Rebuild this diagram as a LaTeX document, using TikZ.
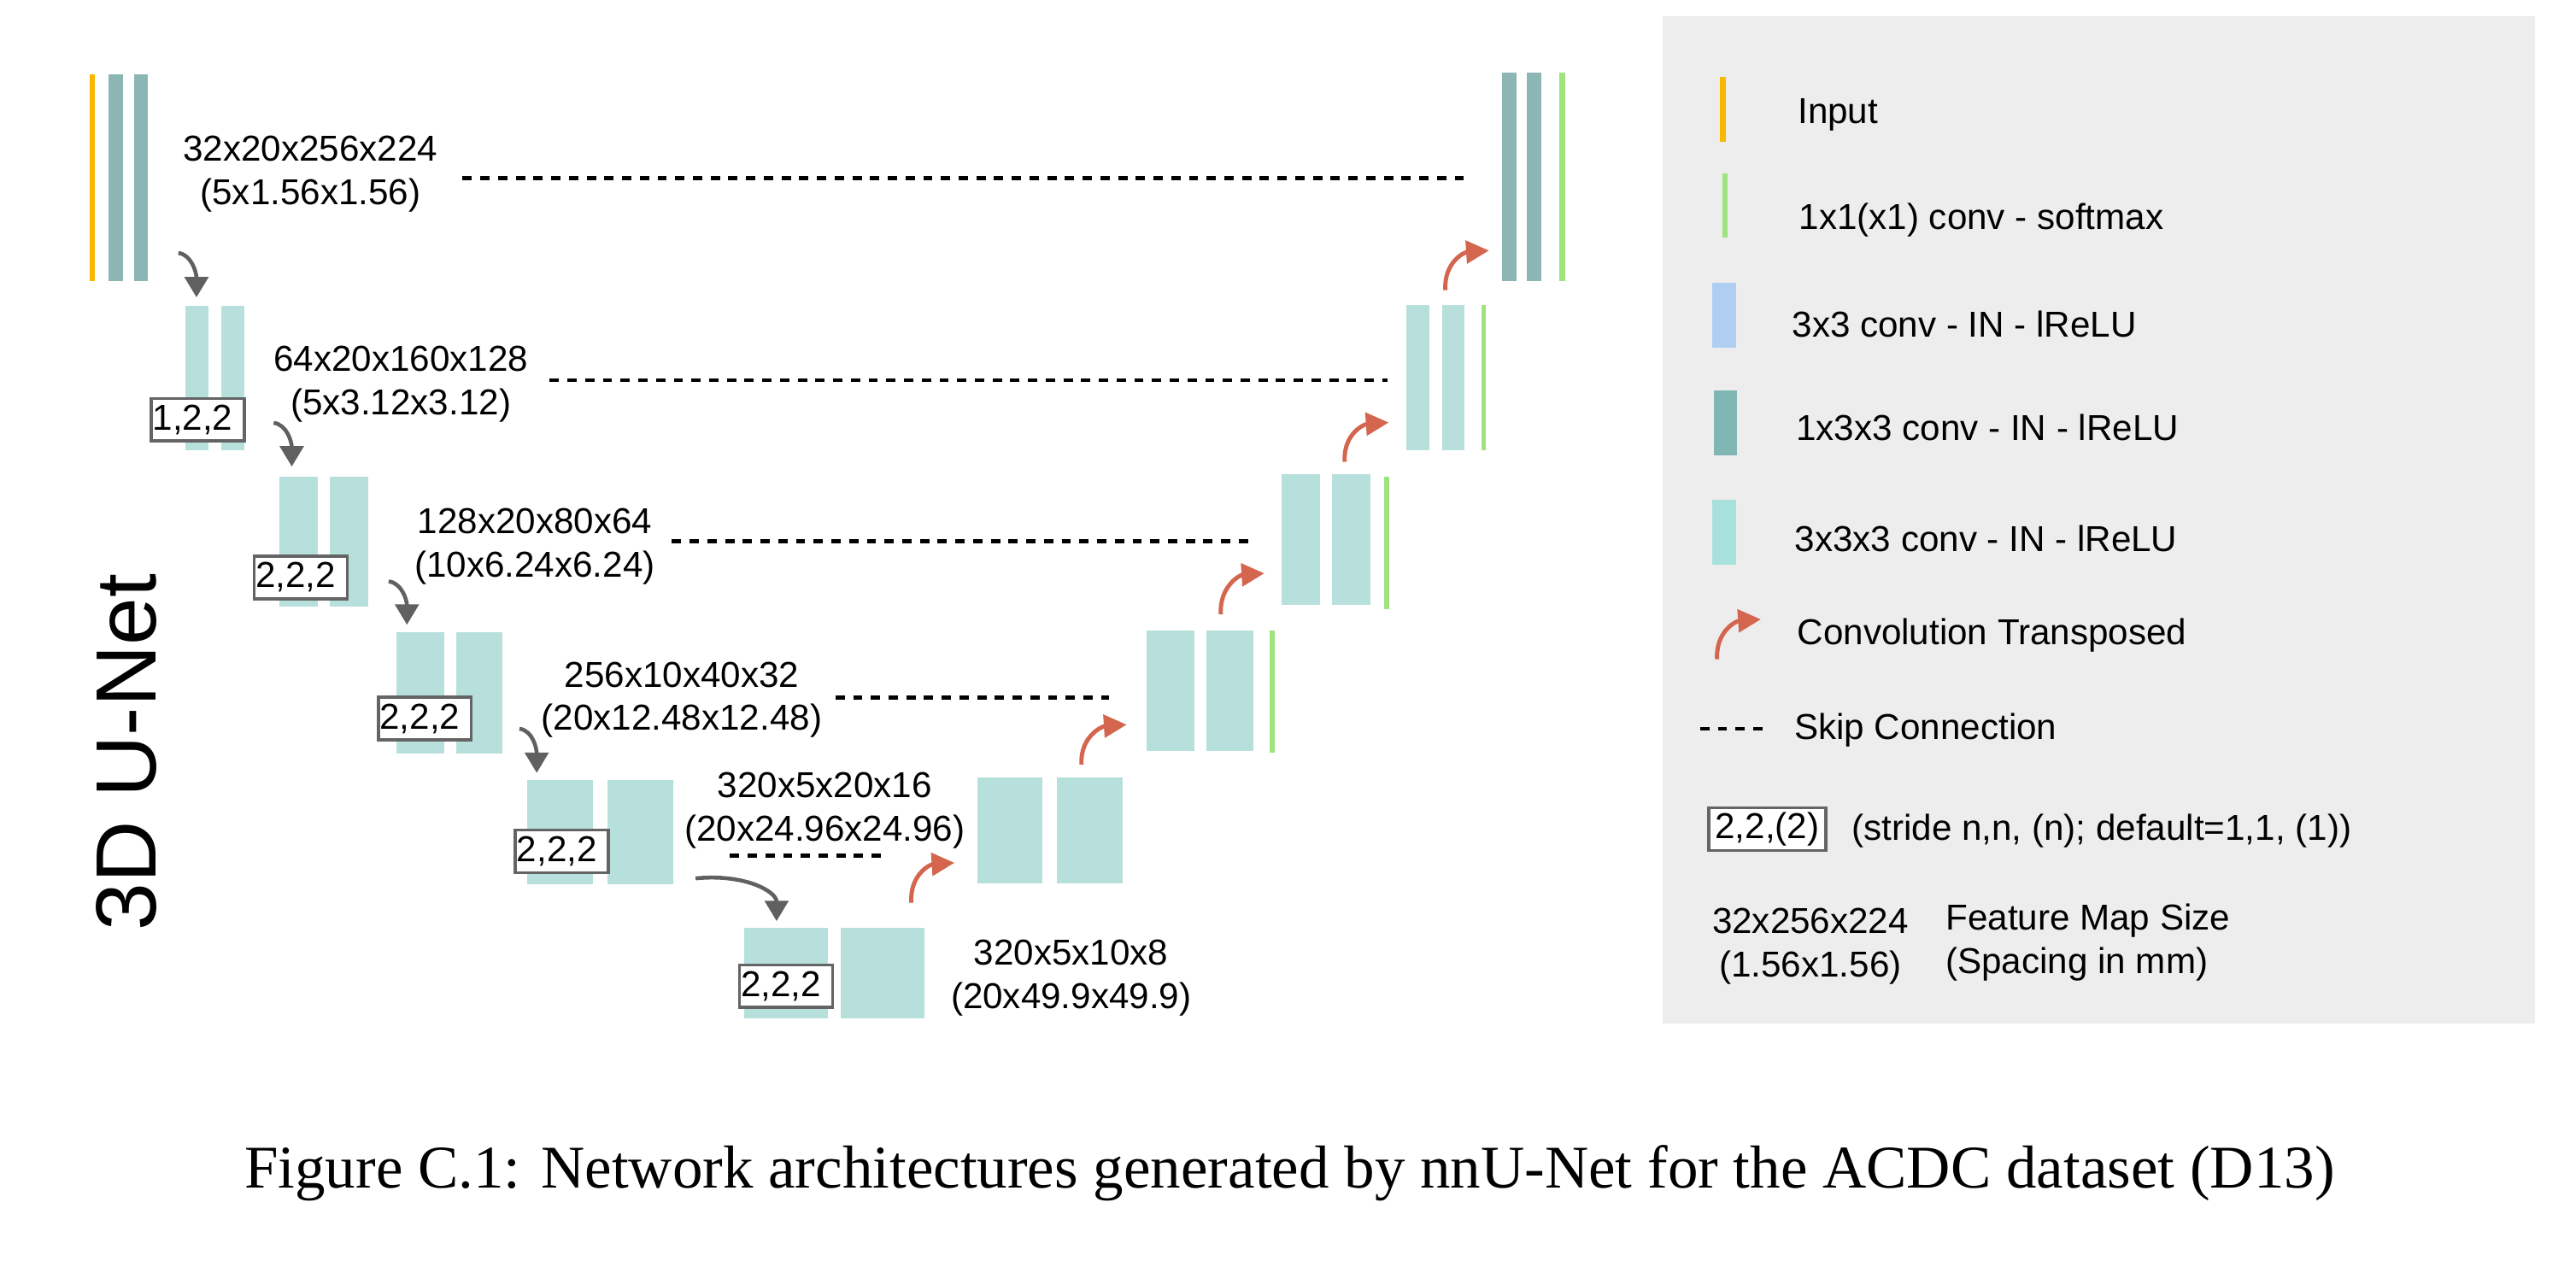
\documentclass[tikz,border=0pt]{standalone}
\usepackage{fontspec}
\setmainfont{Liberation Sans}
\newfontfamily\capfont{Liberation Serif}
\usetikzlibrary{arrows.meta,fit}
\definecolor{inyellow}{RGB}{248,184,0}
\definecolor{darkteal}{RGB}{140,182,180}
\definecolor{lightteal}{RGB}{183,224,220}
\definecolor{legdark}{RGB}{127,181,178}
\definecolor{leglight}{RGB}{168,224,220}
\definecolor{outgreen}{RGB}{158,227,128}
\definecolor{convblue}{RGB}{174,207,242}
\definecolor{legendgray}{RGB}{237,237,237}
\definecolor{upred}{RGB}{212,101,78}
\definecolor{downgray}{RGB}{96,96,96}
\definecolor{boxgray}{RGB}{100,100,100}

\begin{document}
\begin{tikzpicture}[x=0.1923mm,y=-0.1923mm,
	bar/.style={inner sep=0pt,outer sep=0pt,fill=#1},
	lbl/.style={font=\fontsize{12}{14.5}\selectfont,align=center,inner sep=0pt},
	leg/.style={font=\fontsize{12}{14.5}\selectfont,anchor=west,align=left,inner sep=0pt},
	stride/.style={draw=boxgray,line width=1pt,fill=white,font=\fontsize{12}{14.5}\selectfont,minimum width=31pt,minimum height=14.2pt,text width=30pt,align=left,inner xsep=0.5pt,inner ysep=0pt},
	skip/.style={line width=1.3pt,dash pattern=on 3.1pt off 2.8pt},
	downarr/.style={draw=downgray,line width=1.3pt,-{Triangle[width=7.8pt,length=6.8pt]}},
	uparr/.style={draw=upred,line width=1.4pt,-{Triangle[width=7.5pt,length=7.6pt]}}]
	\useasboundingbox (0,0) rectangle (1568,771);

	\node[bar=inyellow,fit={(54.6,45) (57.6,171)}] (in) {};
	\node[bar=darkteal,fit={(66.2,45) (74.8,171)}] (e0a) {};
	\node[bar=darkteal,fit={(81.4,45) (90.2,171)}] (e0b) {};
	\node[bar=lightteal,fit={(112.6,186) (126.8,274)}] (e1a) {};
	\node[bar=lightteal,fit={(134.6,186) (148.7,274)}] (e1b) {};
	\node[bar=lightteal,fit={(170,290) (193.4,369)}] (e2a) {};
	\node[bar=lightteal,fit={(200.6,290) (224,369)}] (e2b) {};
	\node[bar=lightteal,fit={(241.2,385) (270.2,458.5)}] (e3a) {};
	\node[bar=lightteal,fit={(277.5,385) (306,458.5)}] (e3b) {};
	\node[bar=lightteal,fit={(321,475) (361,538)}] (e4a) {};
	\node[bar=lightteal,fit={(369.8,475) (409.6,538)}] (e4b) {};
	\node[bar=lightteal,fit={(453,565) (503.7,620)}] (e5a) {};
	\node[bar=lightteal,fit={(511.8,565) (562.5,620)}] (e5b) {};

	\node[bar=lightteal,fit={(594.8,473) (634.4,537.5)}] (d4a) {};
	\node[bar=lightteal,fit={(643.4,473) (683.1,537.5)}] (d4b) {};
	\node[bar=lightteal,fit={(697.8,383.6) (726.9,457.3)}] (d3a) {};
	\node[bar=lightteal,fit={(734.1,383.6) (762.8,457.3)}] (d3b) {};
	\node[bar=outgreen,fit={(772.9,383.6) (775.9,458)}] (o3) {};
	\node[bar=lightteal,fit={(780,288.8) (803.4,368.2)}] (d2a) {};
	\node[bar=lightteal,fit={(810.8,288.8) (834.1,368.2)}] (d2b) {};
	\node[bar=outgreen,fit={(842.7,290.1) (845.6,370.8)}] (o2) {};
	\node[bar=lightteal,fit={(855.9,185.6) (869.9,273.9)}] (d1a) {};
	\node[bar=lightteal,fit={(877.7,185.6) (891.4,273.9)}] (d1b) {};
	\node[bar=outgreen,fit={(901.8,185.6) (904.4,273.9)}] (o1) {};
	\node[bar=darkteal,fit={(914.3,44) (923.1,171)}] (d0a) {};
	\node[bar=darkteal,fit={(929.4,44) (938.1,171)}] (d0b) {};
	\node[bar=outgreen,fit={(949,44) (952.5,171)}] (o0) {};

	\node[stride] (b1) at (120.3,255.5) {1,2,2};
	\node[stride] (b2) at (183,351.5) {2,2,2};
	\node[stride] (b3) at (258.6,437.4) {2,2,2};
	\node[stride] (b4) at (342,518.3) {2,2,2};
	\node[stride] (b5) at (478.5,600.3) {2,2,2};

	\node[lbl] (t0) at (189,106) {32x20x256x224\\(5x1.56x1.56)};
	\node[lbl] (t1) at (244,234) {64x20x160x128\\(5x3.12x3.12)};
	\node[lbl] (t2) at (325.5,332.5) {128x20x80x64\\(10x6.24x6.24)};
	\node[lbl] (t3) at (415,426) {256x10x40x32\\(20x12.48x12.48)};
	\node[lbl] (t4) at (502,493.5) {320x5x20x16\\(20x24.96x24.96)};
	\node[lbl] (t5) at (652,595.5) {320x5x10x8\\(20x49.9x49.9)};

	\coordinate (k0a) at (281.6,108.4); \coordinate (k0b) at (896.2,108.4);
	\coordinate (k1a) at (334.6,231.5); \coordinate (k1b) at (844.5,231.5);
	\coordinate (k2a) at (409,329.5); \coordinate (k2b) at (760.1,329.5);
	\coordinate (k3a) at (508.5,424.5); \coordinate (k3b) at (675,424.5);
	\coordinate (k4a) at (444.3,520.8); \coordinate (k4b) at (538,520.8);
	\draw[skip] (k0a) -- (k0b);
	\draw[skip] (k1a) -- (k1b);
	\draw[skip] (k2a) -- (k2b);
	\draw[skip] (k3a) -- (k3b);
	\draw[skip] (k4a) -- (k4b);

	\coordinate (g1s) at (108.6,154); \coordinate (g1t) at (119.6,181);
	\coordinate (g2s) at (166.6,257.4); \coordinate (g2t) at (177.6,284);
	\coordinate (g3s) at (236.6,353.9); \coordinate (g3t) at (247.7,380.3);
	\coordinate (g4s) at (316.2,443.6); \coordinate (g4t) at (326.7,470.5);
	\coordinate (g5s) at (423.4,534.7); \coordinate (g5t) at (472.7,560.7);
	\draw[downarr] (g1s) .. controls +(8,1) and +(0,-15) .. (g1t);
	\draw[downarr] (g2s) .. controls +(8,1) and +(0,-15) .. (g2t);
	\draw[downarr] (g3s) .. controls +(8,1) and +(0,-15) .. (g3t);
	\draw[downarr] (g4s) .. controls +(8,1) and +(0,-15) .. (g4t);
	\draw[downarr] (g5s) .. controls +(30,-3) and +(0,-18) .. (g5t);

	\coordinate (r1s) at (554.7,549.5); \coordinate (r1t) at (581,525.2);
	\coordinate (r2s) at (658.3,465.4); \coordinate (r2t) at (685.8,441.1);
	\coordinate (r3s) at (743.1,374); \coordinate (r3t) at (769.6,349);
	\coordinate (r4s) at (818.5,281.1); \coordinate (r4t) at (845.3,257.2);
	\coordinate (r5s) at (879.8,176.6); \coordinate (r5t) at (906.3,152.5);
	\draw[uparr] (r1s) .. controls +(-1,-17) and +(-15,1) .. (r1t);
	\draw[uparr] (r2s) .. controls +(-1,-17) and +(-15,1) .. (r2t);
	\draw[uparr] (r3s) .. controls +(-1,-17) and +(-15,1) .. (r3t);
	\draw[uparr] (r4s) .. controls +(-1,-17) and +(-15,1) .. (r4t);
	\draw[uparr] (r5s) .. controls +(-1,-17) and +(-15,1) .. (r5t);

	\node[font=\fontsize{28.5}{34}\selectfont,rotate=90,inner sep=0pt] (title) at (77,458) {3D U-Net};

	\node[bar=legendgray,fit={(1012,10) (1543,623)}] (legend) {};
	\node[bar=inyellow,fit={(1047,47) (1050.3,86.3)}] (li0) {};
	\node[leg] (lt0) at (1094,70) {Input};
	\node[bar=outgreen,fit={(1048.4,105.4) (1051.6,144.7)}] (li1) {};
	\node[leg] (lt1) at (1094.7,134.2) {1x1(x1) conv - softmax};
	\node[bar=convblue,fit={(1042.3,172.1) (1056.7,211.5)}] (li2) {};
	\node[leg] (lt2) at (1090.5,197.4) {3x3 conv - IN - lReLU};
	\node[bar=legdark,fit={(1043,237.5) (1057.4,277)}] (li3) {};
	\node[leg] (lt3) at (1093,260.5) {1x3x3 conv - IN - lReLU};
	\node[bar=leglight,fit={(1042.3,304.2) (1056.6,344)}] (li4) {};
	\node[leg] (lt4) at (1092.2,328) {3x3x3 conv - IN - lReLU};
	\coordinate (l5s) at (1045.2,401.3); \coordinate (l5t) at (1071.8,377);
	\draw[uparr] (l5s) .. controls +(-1,-17) and +(-15,1) .. (l5t);
	\node[leg] (lt5) at (1093.7,386.5) {Convolution Transposed};
	\coordinate (l6s) at (1034.8,443.7); \coordinate (l6t) at (1074.4,443.7);
	\draw[skip] (l6s) -- (l6t);
	\node[leg] (lt6) at (1091.9,444.3) {Skip Connection};
	\node[stride,minimum width=38.9pt,text width=37pt,align=center] (lb7) at (1075.7,504.8) {2,2,(2)};
	\node[leg] (lt7) at (1126.8,505.6) {(stride n,n, (n); default=1,1, (1))};
	\node[lbl] (lf8) at (1102,576) {32x256x224\\(1.56x1.56)};
	\node[leg] (lt8) at (1184,573.7) {Feature Map Size\\(Spacing in mm)};

	\node[font=\capfont\fontsize{20.2}{24}\selectfont,inner sep=0pt] (cap) at (785,714) {Figure C.1: Network architectures generated by nnU-Net for the ACDC dataset (D13)};
\end{tikzpicture}
\end{document}
